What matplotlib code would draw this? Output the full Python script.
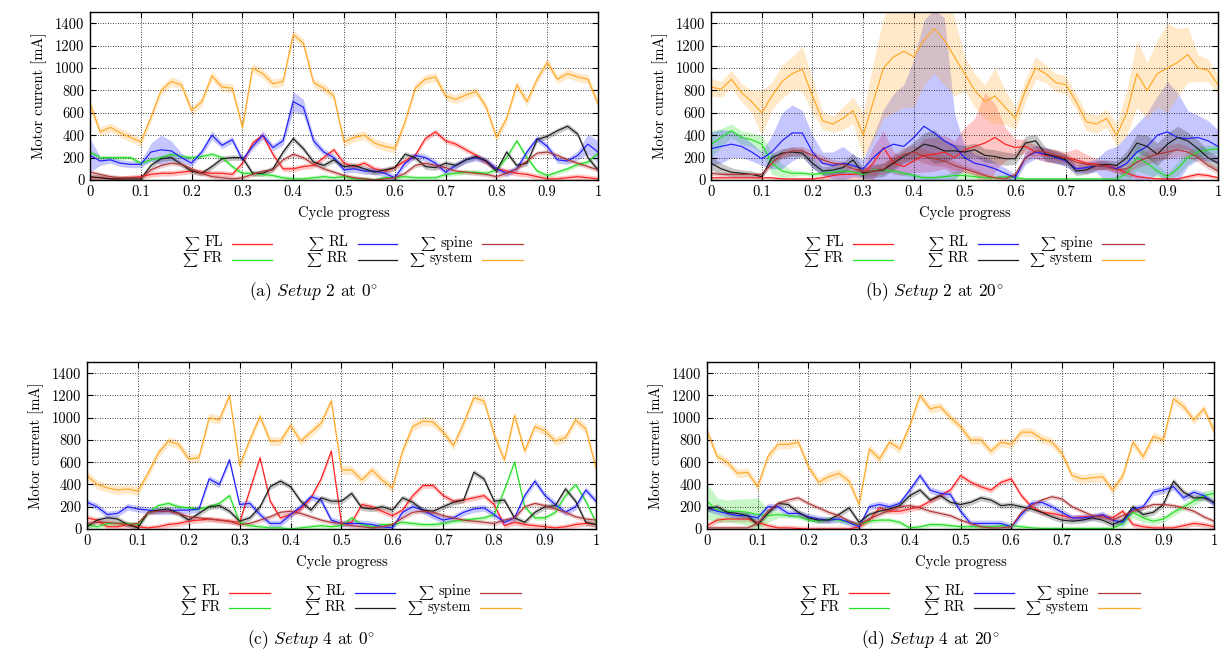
import numpy as np
import matplotlib
matplotlib.use('Agg')
import matplotlib.pyplot as plt

plt.rcParams['font.family'] = 'cmr10'
plt.rcParams['mathtext.fontset'] = 'cm'
plt.rcParams['axes.unicode_minus'] = False
plt.rcParams['axes.formatter.use_mathtext'] = True

# cycle progress, sampled every 0.02
progress = np.linspace(0, 1, 51)

labels = ['FL', 'FR', 'RL', 'RR', 'spine', 'system']
colours = ['#ff1f1f', '#22e022', '#1f1fff', '#1c1c1c', '#b03838', '#ffa826']

# ---- (a) Setup 2 at 0 deg ----
a_fl = [20, 20, 10, 10, 20, 30, 50, 60, 60, 70,
        80, 70, 60, 60, 50, 150, 330, 400, 230, 100,
        100, 120, 130, 200, 270, 150, 120, 150, 100, 80,
        110, 170, 220, 370, 430, 350, 320, 270, 220, 160,
        100, 80, 60, 50, 30, 10, 10, 20, 30, 20,
        10]
a_fr = [250, 200, 200, 200, 200, 150, 180, 200, 230, 210,
        200, 210, 230, 200, 120, 60, 60, 50, 40, 20,
        10, 10, 20, 30, 20, 30, 10, 10, 0, 20,
        20, 30, 20, 20, 20, 50, 60, 70, 70, 60,
        90, 200, 350, 200, 80, 40, 70, 100, 140, 160,
        240]
a_rl = [220, 170, 180, 150, 140, 140, 250, 270, 260, 200,
        150, 250, 400, 310, 360, 180, 300, 400, 290, 350,
        700, 650, 350, 250, 200, 90, 100, 80, 80, 60,
        20, 150, 220, 200, 150, 70, 130, 180, 200, 170,
        100, 60, 100, 250, 370, 300, 180, 170, 220, 320,
        250]
a_rr = [30, 20, 10, 10, 10, 10, 130, 190, 200, 140,
        80, 60, 120, 190, 200, 200, 60, 60, 100, 250,
        370, 280, 160, 130, 180, 120, 130, 100, 70, 90,
        110, 230, 200, 120, 110, 150, 130, 180, 210, 170,
        80, 250, 130, 150, 360, 390, 440, 480, 410, 200,
        90]
a_spine = [70, 50, 30, 20, 20, 20, 90, 130, 150, 140,
           100, 60, 30, 20, 10, 20, 50, 80, 90, 180,
           230, 200, 140, 100, 70, 40, 20, 10, 0, 10,
           20, 60, 130, 150, 130, 110, 80, 70, 60, 50,
           30, 60, 100, 170, 240, 250, 220, 180, 150, 120,
           90]
a_system = [680, 430, 470, 420, 380, 340, 560, 800, 880, 850,
            620, 700, 930, 830, 820, 470, 1000, 950, 860, 880,
            1300, 1220, 870, 820, 750, 340, 380, 400, 330, 300,
            280, 520, 820, 900, 920, 750, 720, 760, 790, 650,
            380, 550, 850, 700, 900, 1050, 900, 950, 920, 900,
            680]
a_rl_spread = [150, 40, 30, 30, 30, 30, 80, 130, 90, 40,
               30, 30, 40, 30, 30, 30, 30, 40, 30, 40,
               90, 70, 40, 30, 30, 30, 30, 30, 30, 30,
               30, 30, 30, 30, 30, 30, 30, 30, 30, 30,
               30, 30, 30, 30, 30, 30, 30, 30, 40, 90,
               100]

# ---- (b) Setup 2 at 20 deg ----
b_fl = [20, 20, 20, 20, 20, 20, 20, 10, 10, 10,
        10, 20, 40, 50, 50, 60, 150, 290, 150, 120,
        170, 220, 230, 250, 200, 270, 300, 330, 380, 320,
        290, 300, 250, 220, 210, 200, 180, 150, 140, 130,
        100, 60, 30, 20, 10, 10, 10, 30, 50, 40,
        20]
b_fr = [320, 380, 440, 380, 360, 320, 150, 80, 60, 60,
        50, 60, 70, 80, 70, 50, 90, 90, 80, 60,
        40, 20, 20, 30, 40, 40, 30, 20, 20, 30,
        20, 10, 10, 10, 10, 10, 10, 10, 10, 10,
        10, 60, 200, 150, 80, 30, 100, 200, 250, 270,
        280]
b_rl = [280, 300, 320, 300, 250, 190, 250, 350, 420, 420,
        250, 150, 130, 150, 130, 100, 200, 280, 320, 300,
        380, 480, 420, 350, 300, 200, 150, 130, 100, 60,
        20, 200, 250, 230, 200, 170, 100, 110, 130, 120,
        100, 150, 250, 300, 400, 430, 380, 370, 380, 350,
        300]
b_rr = [150, 100, 70, 60, 50, 30, 200, 240, 250, 240,
        150, 80, 90, 110, 180, 60, 80, 90, 150, 210,
        260, 320, 300, 260, 260, 250, 270, 220, 210, 190,
        190, 330, 350, 230, 210, 180, 80, 90, 130, 140,
        130, 200, 330, 300, 230, 320, 380, 350, 280, 200,
        150]
b_spine = [60, 50, 50, 50, 50, 50, 150, 230, 260, 260,
           220, 180, 150, 140, 100, 80, 80, 100, 170, 230,
           250, 210, 190, 170, 130, 100, 70, 40, 20, 10,
           50, 200, 260, 250, 220, 200, 160, 140, 130, 120,
           90, 100, 160, 200, 230, 250, 270, 250, 200, 130,
           80]
b_system = [830, 810, 900, 780, 700, 600, 750, 880, 950, 990,
            750, 530, 500, 550, 620, 400, 700, 1000, 1100, 1150,
            1100, 1250, 1350, 1250, 1100, 950, 800, 700, 750, 650,
            550, 800, 1000, 950, 870, 850, 700, 520, 500, 550,
            400, 600, 950, 800, 950, 1000, 1050, 1120, 1000, 980,
            850]

# spread of the repeated runs in (b)
b_fl_spread = [10, 10, 10, 10, 10, 10, 10, 10, 10, 10,
               10, 20, 30, 40, 40, 50, 150, 150, 100, 80,
               100, 150, 150, 150, 150, 200, 250, 450, 300, 150,
               80, 60, 60, 60, 60, 50, 100, 80, 50, 40,
               40, 30, 20, 10, 10, 10, 10, 20, 20, 20,
               10]
b_fr_spread = [120, 80, 60, 60, 60, 80, 100, 60, 30, 20,
               20, 20, 20, 20, 20, 20, 20, 20, 20, 20,
               20, 20, 20, 20, 40, 40, 30, 20, 20, 20,
               20, 10, 10, 10, 10, 10, 10, 10, 10, 10,
               20, 80, 120, 100, 60, 30, 60, 60, 50, 40,
               40]
b_rl_spread = [150, 150, 120, 100, 80, 60, 150, 250, 250, 200,
               150, 100, 120, 150, 100, 80, 200, 350, 450, 550,
               700, 950, 1100, 1100, 300, 100, 80, 80, 60, 50,
               30, 60, 60, 60, 50, 50, 40, 50, 60, 150,
               200, 250, 250, 300, 350, 450, 400, 250, 200, 180,
               150]
b_rr_spread = [60, 50, 40, 30, 30, 20, 40, 40, 40, 40,
               40, 40, 40, 50, 60, 50, 60, 60, 60, 60,
               80, 100, 150, 100, 60, 60, 60, 60, 60, 60,
               50, 60, 60, 60, 60, 50, 40, 40, 40, 40,
               40, 60, 80, 100, 100, 100, 100, 80, 80, 60,
               60]
b_spine_spread = [20, 20, 20, 20, 20, 20, 30, 40, 40, 40,
                  40, 40, 30, 30, 30, 30, 40, 50, 60, 60,
                  60, 60, 60, 50, 40, 30, 30, 20, 20, 20,
                  20, 40, 40, 40, 40, 40, 30, 30, 30, 30,
                  30, 40, 50, 60, 60, 60, 60, 50, 40, 30,
                  30]
b_system_spread = [80, 70, 80, 80, 100, 200, 120, 150, 150, 200,
                   150, 80, 70, 100, 120, 200, 350, 450, 500, 500,
                   450, 400, 400, 400, 350, 150, 150, 150, 250, 150,
                   100, 100, 100, 80, 80, 80, 70, 80, 80, 80,
                   100, 200, 300, 250, 300, 400, 300, 250, 120, 100,
                   80]

# ---- (c) Setup 4 at 0 deg ----
c_fl = [100, 80, 20, 20, 40, 20, 10, 20, 40, 50,
        70, 80, 90, 80, 70, 60, 350, 640, 250, 100,
        130, 180, 280, 450, 700, 50, 60, 220, 200, 160,
        120, 170, 300, 390, 390, 300, 250, 260, 280, 300,
        220, 30, 60, 40, 30, 20, 10, 20, 40, 50,
        40]
c_fr = [40, 20, 50, 50, 50, 40, 150, 210, 230, 200,
        190, 180, 200, 230, 300, 60, 30, 20, 10, 10,
        0, 10, 20, 30, 20, 30, 100, 40, 20, 40,
        40, 60, 50, 40, 40, 50, 70, 80, 90, 100,
        130, 350, 600, 200, 100, 100, 150, 300, 400, 250,
        60]
c_rl = [240, 200, 130, 140, 200, 180, 170, 160, 160, 170,
        170, 180, 450, 400, 620, 220, 230, 130, 50, 50,
        130, 200, 290, 260, 80, 50, 50, 50, 40, 20,
        10, 150, 200, 170, 120, 80, 100, 150, 180, 190,
        130, 60, 100, 300, 430, 300, 220, 150, 200, 350,
        250]
c_rr = [20, 80, 100, 90, 40, 10, 150, 170, 180, 140,
        80, 140, 200, 210, 160, 70, 100, 200, 380, 430,
        380, 250, 170, 280, 250, 250, 320, 190, 180, 200,
        170, 280, 240, 170, 160, 200, 240, 260, 510, 450,
        250, 260, 100, 60, 150, 200, 210, 360, 250, 60,
        40]
c_spine = [50, 60, 60, 50, 40, 50, 150, 160, 160, 140,
           110, 100, 90, 80, 70, 40, 50, 80, 110, 150,
           160, 140, 110, 80, 60, 50, 30, 20, 10, 20,
           40, 100, 150, 160, 150, 120, 100, 80, 70, 60,
           50, 80, 100, 200, 230, 210, 180, 150, 110, 90,
           80]
c_system = [480, 400, 370, 350, 360, 340, 500, 680, 790, 760,
            630, 640, 1000, 980, 1200, 570, 800, 1010, 790, 790,
            930, 790, 870, 950, 1150, 530, 530, 440, 530, 440,
            370, 700, 920, 970, 960, 870, 750, 950, 1180, 1150,
            850, 620, 1020, 700, 920, 880, 790, 820, 980, 900,
            550]

# ---- (d) Setup 4 at 20 deg ----
d_fl = [30, 80, 90, 90, 90, 60, 30, 10, 10, 5,
        0, 0, 0, 0, 0, 20, 80, 190, 160, 160,
        180, 200, 250, 300, 350, 480, 420, 380, 350, 420,
        450, 300, 200, 150, 140, 120, 100, 110, 110, 120,
        100, 160, 40, 20, 10, 10, 10, 30, 50, 40,
        20]
d_fr = [250, 170, 160, 160, 150, 130, 120, 130, 120, 110,
        80, 70, 90, 80, 60, 40, 70, 80, 80, 60,
        10, 20, 40, 40, 30, 20, 20, 20, 20, 30,
        30, 20, 10, 5, 5, 5, 5, 5, 5, 5,
        5, 50, 150, 100, 70, 90, 150, 200, 250, 300,
        320]
d_rl = [190, 160, 140, 120, 120, 100, 200, 200, 140, 140,
        110, 90, 80, 90, 60, 20, 200, 220, 200, 230,
        350, 480, 350, 320, 310, 160, 50, 50, 50, 50,
        20, 130, 230, 240, 200, 150, 100, 100, 110, 130,
        80, 60, 180, 200, 330, 350, 380, 280, 330, 300,
        230]
d_rr = [180, 200, 150, 140, 120, 40, 140, 230, 220, 150,
        100, 80, 80, 130, 190, 60, 130, 160, 180, 210,
        300, 350, 260, 300, 240, 220, 240, 280, 260, 210,
        220, 200, 180, 150, 110, 80, 70, 80, 100, 80,
        40, 80, 200, 130, 150, 220, 430, 330, 280, 280,
        240]
d_spine = [10, 10, 10, 10, 10, 50, 160, 230, 260, 280,
           230, 190, 150, 120, 70, 40, 90, 130, 170, 200,
           210, 190, 160, 140, 120, 80, 50, 20, 10, 10,
           20, 150, 210, 260, 290, 270, 200, 160, 120, 110,
           80, 120, 160, 190, 220, 220, 210, 190, 160, 110,
           70]
d_system = [880, 650, 600, 500, 510, 380, 650, 760, 760, 780,
            560, 420, 470, 500, 430, 220, 720, 630, 780, 720,
            930, 1200, 1080, 1100, 1000, 920, 800, 800, 700, 780,
            760, 870, 870, 810, 780, 680, 480, 450, 460, 470,
            350, 480, 780, 650, 830, 800, 1170, 1100, 980, 1080,
            880]
d_fr_spread = [160, 110, 100, 110, 120, 150, 60, 30, 20, 20,
               20, 20, 20, 20, 20, 20, 20, 20, 20, 20,
               20, 20, 20, 20, 20, 20, 20, 20, 20, 20,
               20, 20, 20, 20, 20, 20, 20, 20, 20, 20,
               20, 40, 50, 40, 30, 30, 30, 30, 40, 40,
               40]

panels = [
    ('a', '2', '0', [a_fl, a_fr, a_rl, a_rr, a_spine, a_system],
     [25, 20, a_rl_spread, 25, 20, 40]),
    ('b', '2', '20', [b_fl, b_fr, b_rl, b_rr, b_spine, b_system],
     [b_fl_spread, b_fr_spread, b_rl_spread, b_rr_spread, b_spine_spread, b_system_spread]),
    ('c', '4', '0', [c_fl, c_fr, c_rl, c_rr, c_spine, c_system],
     [25, 20, 30, 25, 20, 40]),
    ('d', '4', '20', [d_fl, d_fr, d_rl, d_rr, d_spine, d_system],
     [25, d_fr_spread, 30, 25, 20, 40]),
]
rects = [
    [0.0736, 0.7289, 0.4154, 0.2530],
    [0.5814, 0.7289, 0.4146, 0.2530],
    [0.0711, 0.2033, 0.4162, 0.2515],
    [0.5781, 0.2033, 0.4146, 0.2515],
]

fig = plt.figure(figsize=(12.23, 6.64), dpi=100)
renderer = fig.canvas.get_renderer()


def draw_key(ax):
    # gnuplot-style key: three columns, two rows, label right-aligned before its sample line
    rows = [-0.372, -0.466]
    cols = [(0.262, 0.280, 0.359), (0.508, 0.527, 0.605), (0.754, 0.772, 0.853)]
    for i, (lab, col) in enumerate(zip(labels, colours)):
        tx, x0, x1 = cols[i // 2]
        y = rows[i % 2]
        t = ax.text(tx, y, lab, transform=ax.transAxes,
                    ha='right', va='center', fontsize=10.5)
        left = ax.transAxes.inverted().transform(t.get_window_extent(renderer))[0][0]
        ax.text(left - 0.008, y - 0.01, r'$\sum$', transform=ax.transAxes,
                ha='right', va='center', fontsize=7.5)
        ax.plot([x0, x1], [y - 0.01, y - 0.01], transform=ax.transAxes,
                color=col, lw=0.9, clip_on=False)


for (tag, setup, angle, series, spread), rect in zip(panels, rects):
    ax = fig.add_axes(rect)
    for vals, sp, col in zip(series, spread, colours):
        vals = np.asarray(vals, dtype=float)
        sp = np.broadcast_to(np.asarray(sp, dtype=float), vals.shape)
        ax.fill_between(progress, vals - sp, vals + sp, color=col, alpha=0.25, lw=0)
    for vals, col in zip(series, colours):
        ax.plot(progress, vals, color=col, lw=0.85)

    ax.set_xlim(0, 1)
    ax.set_ylim(0, 1500)
    ax.set_xticks(np.arange(0, 1.01, 0.1))
    ax.set_xticklabels(['0', '0.1', '0.2', '0.3', '0.4', '0.5', '0.6', '0.7', '0.8', '0.9', '1'])
    ax.set_yticks(np.arange(0, 1401, 200))
    ax.set_yticklabels([str(v) for v in range(0, 1401, 200)])
    ax.tick_params(direction='in', top=True, right=True, length=4, width=0.8,
                   labelsize=10.5, pad=4)
    ax.grid(True, color='black', linestyle=(0, (1, 2)), linewidth=0.6)
    for s in ax.spines.values():
        s.set_linewidth(1.0)
    ax.set_xlabel('Cycle progress', fontsize=10.5, labelpad=5)
    ax.set_ylabel('Motor current [mA]', fontsize=10.5, labelpad=6)

    draw_key(ax)
    ax.text(0.44, -0.665, r'(%s) $\mathit{Setup\ %s}$ at $%s^{\circ}$' % (tag, setup, angle),
            transform=ax.transAxes, ha='center', va='center', fontsize=12.5)

fig.savefig('out.png', dpi=100)
